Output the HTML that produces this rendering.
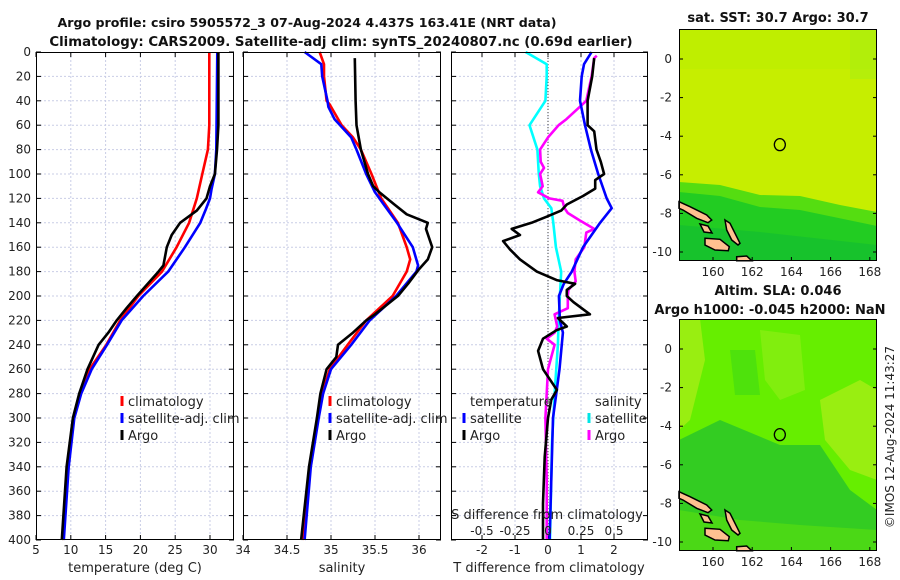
<!DOCTYPE html>
<html><head><meta charset="utf-8"><style>
html,body{margin:0;padding:0;background:#fff;width:900px;height:580px;overflow:hidden}
svg{display:block;font-family:"DejaVu Sans","Liberation Sans",sans-serif}
</style></head><body>
<svg id="fig" width="900" height="580" viewBox="0 0 900 580" xmlns="http://www.w3.org/2000/svg">
<text x="307" y="27" font-size="12.6" font-weight="bold" text-anchor="middle" fill="#111">Argo profile: csiro 5905572_3 07-Aug-2024 4.437S 163.41E (NRT data)</text>
<text x="341" y="46" font-size="13.3" font-weight="bold" text-anchor="middle" fill="#111">Climatology: CARS2009. Satellite-adj clim: synTS_20240807.nc (0.69d earlier)</text>
<text x="778" y="22" font-size="13" font-weight="bold" text-anchor="middle" fill="#111">sat. SST: 30.7 Argo: 30.7</text>
<text x="778" y="295" font-size="13" font-weight="bold" text-anchor="middle" fill="#111">Altim. SLA: 0.046</text>
<text x="770" y="314" font-size="13" font-weight="bold" text-anchor="middle" fill="#111">Argo h1000: -0.045 h2000: NaN</text>
<text transform="translate(894,437) rotate(-90)" font-size="12" text-anchor="middle" fill="#222">©IMOS 12-Aug-2024 11:43:27</text>
<g id="plots"></g>
</svg>
<script>
// ---- depths (m) ----
const depthTicks = [0,20,40,60,80,100,120,140,160,180,200,220,240,260,280,300,320,340,360,380,400];
// Panel 1: temperature
const tempTicks = [5,10,15,20,25,30];
const climTempDepth = [0,60,80,100,120,140,160,180,200,220,240,260,280,300,340,400];
const climTemp = [29.9,29.9,29.7,28.9,28.1,27.0,25.2,23.1,19.7,17.1,15.1,12.7,11.4,10.4,9.6,8.8];
const satTempDepth = [0,80,100,113,120,129,140,160,180,200,220,240,260,280,300,340,400];
const satTemp = [31.05,30.9,30.7,30.2,30.0,29.4,28.6,26.4,24.0,20.4,17.3,15.2,13.0,11.5,10.5,9.7,9.0];
const argoTempDepth = [0,60,80,100,110,120,130,140,150,160,175,180,200,210,220,230,240,260,280,300,340,400];
const argoTemp = [31.2,31.2,31.0,30.7,30.0,29.5,28.1,25.7,24.5,23.8,23.3,22.6,19.5,18.0,16.6,15.4,14.0,12.4,11.2,10.3,9.4,8.7];
// Panel 2: salinity
const salTicks = [34,34.5,35,35.5,36];
const climSalDepth = [0,10,20,40,43,60,70,80,100,120,140,160,170,180,200,220,240,260,280,300,340,400];
const climSal = [34.87,34.92,34.92,34.95,34.985,35.12,35.25,35.34,35.46,35.57,35.76,35.86,35.90,35.86,35.70,35.40,35.19,34.985,34.90,34.85,34.76,34.68];
const satSalDepth = [0,10,20,40,45,55,70,80,100,115,120,140,160,175,180,200,220,240,260,280,300,340,400];
const satSal = [34.70,34.89,34.90,34.96,34.97,35.04,35.23,35.29,35.40,35.50,35.55,35.75,35.93,35.99,35.97,35.74,35.44,35.23,35.00,34.91,34.86,34.77,34.70];
const argoSalDepth = [5,40,60,80,100,110,115,125,133,140,145,160,170,178,190,200,215,220,230,240,250,260,280,300,340,400];
const argoSal = [35.27,35.28,35.29,35.34,35.42,35.48,35.55,35.72,35.86,36.10,36.08,36.15,36.10,36.00,35.875,35.76,35.50,35.40,35.25,35.08,35.06,34.95,34.88,34.84,34.75,34.66];
// Panel 3: differences from climatology
const dTempTicks = [-2,-1,0,1,2];
const dSalTicks = [-0.5,-0.25,0,0.25,0.5];
const satDTDepth = [0,10,20,40,60,80,100,120,128,140,160,180,190,200,220,230,260,280,300,350,400];
const satDT = [1.32,1.09,1.02,0.97,1.12,1.30,1.52,1.78,1.93,1.58,1.06,0.72,0.48,0.33,0.36,0.45,0.35,0.25,0.15,0.10,0.05];
const argoDTDepth = [5,20,40,60,65,80,90,100,105,112,118,125,130,135,140,145,150,155,162,170,180,187,190,195,200,205,215,218,225,228,235,245,260,277,285,300,332,370,400];
const argoDT = [1.40,1.34,1.20,1.20,1.40,1.47,1.60,1.70,1.43,1.43,1.06,0.57,0.40,-0.04,-0.50,-1.10,-0.85,-1.36,-1.15,-0.85,-0.34,0.26,0.82,0.57,0.57,0.77,1.27,0.30,0.57,0.26,-0.15,-0.30,-0.15,0.27,0.10,0.00,-0.10,-0.15,-0.15];
const satDSDepth = [0,10,20,40,55,60,80,100,110,120,128,140,160,180,200,220,240,280,320,400];
const satDS = [-0.17,-0.01,-0.01,-0.02,-0.11,-0.14,-0.08,-0.07,-0.06,-0.03,0.025,0.04,0.06,0.10,0.09,0.08,0.075,0.05,0.03,0.015];
const argoDSDepth = [3,5,20,35,40,45,55,60,70,80,90,95,100,110,115,120,122,128,132,138,145,148,160,170,180,188,195,200,210,215,225,230,235,240,260,300,350,400];
const argoDS = [0.37,0.35,0.33,0.30,0.29,0.24,0.14,0.08,0.0,-0.06,-0.055,-0.03,-0.06,-0.04,-0.075,0.01,0.11,0.125,0.15,0.24,0.35,0.29,0.275,0.21,0.20,0.21,0.155,0.15,0.15,0.05,0.07,0.05,-0.01,0.05,0.0,-0.02,-0.01,-0.01];
// Maps
const lonTicks = [160,162,164,166,168];
const latTicks = [0,-2,-4,-6,-8,-10];
const argoLon = 163.41, argoLat = -4.437;

const NS = 'http://www.w3.org/2000/svg';
const root = document.getElementById('plots');
function el(tag, attrs, parent, text){
  const e = document.createElementNS(NS, tag);
  for (const k in attrs) e.setAttribute(k, attrs[k]);
  if (text !== undefined) e.textContent = text;
  (parent||root).appendChild(e);
  return e;
}
const yTop = 52, yBot = 540;
const yD = d => yTop + d*1.22;
const xT = t => 36 + (t-5)*6.96;
const xS = s => 243 + (s-34)*88;
const xDT = v => 548 + v*33;
const xDS = v => 548 + v*132;

function frame(x0,x1,name,xticks,xfun,showY){
  const g = el('g',{});
  
  
  el('rect',{x:x0,y:yTop,width:x1-x0,height:yBot-yTop,fill:'#fff'},g);
  depthTicks.forEach(d=>{
    const y=yD(d);
    if(d>0&&d<400) el('line',{x1:x0,x2:x1,y1:y,y2:y,stroke:'#c9cde6','stroke-width':1,'stroke-dasharray':'2,2'},g);
    el('line',{x1:x0,x2:x0+5,y1:y,y2:y,stroke:'#000'},g);
    el('line',{x1:x1-5,x2:x1,y1:y,y2:y,stroke:'#000'},g);
    if(showY){
      const t=el('text',{x:x0-5,y:y+4,'font-size':12,'text-anchor':'end',fill:'#222'},g,String(d));
      
      
    }
  });
  xticks.forEach(v=>{
    const x=xfun(v);
    if(x>x0+1&&x<x1-1) el('line',{x1:x,x2:x,y1:yTop,y2:yBot,stroke:'#c9cde6','stroke-width':1,'stroke-dasharray':'2,2'},g);
    el('line',{x1:x,x2:x,y1:yBot,y2:yBot-5,stroke:'#000'},g);
    el('line',{x1:x,x2:x,y1:yTop,y2:yTop+5,stroke:'#000'},g);
  });
  return g;
}
function series(xs,ds,fx,color,name,parent,w){
  const p = el('path',{d:xs.map((v,i)=>(i?'L':'M')+fx(v).toFixed(1)+','+yD(ds[i]).toFixed(1)).join(''),fill:'none',stroke:color,'stroke-width':w||2.6,'stroke-linejoin':'round'},parent);
  
  
  return p;
}
function border(x0,x1,parent){
  el('rect',{x:x0+0.5,y:yTop+0.5,width:x1-x0-1,height:yBot-yTop-1,fill:'none',stroke:'#000','stroke-width':1},parent);
}
function legItem(x,y,color,label,parent,name){
  const g=el('g',{},parent);
  
  
  el('line',{x1:x,x2:x,y1:y-10,y2:y,stroke:color,'stroke-width':3},g);
  el('text',{x:x+6,y:y,'font-size':13,fill:'#222'},g,label);
}

// Panel 1
const g1 = frame(36,234,'temperature-panel',tempTicks,xT,true);
series(climTemp,climTempDepth,xT,'#ff0000','climatology-temp-line',g1);
series(satTemp,satTempDepth,xT,'#0000ff','satellite-temp-line',g1);
series(argoTemp,argoTempDepth,xT,'#000000','argo-temp-line',g1);
border(36,234,g1);
tempTicks.forEach(v=>{const t=el('text',{x:xT(v),y:554,'font-size':12,'text-anchor':'middle',fill:'#222'},g1,String(v));
  
  });
el('text',{x:135,y:572,'font-size':13,'text-anchor':'middle',fill:'#222'},g1,'temperature (deg C)');
legItem(122,406,'#ff0000','climatology',g1,'legend-climatology');
legItem(122,423,'#0000ff','satellite-adj. clim',g1,'legend-satellite');
legItem(122,440,'#000','Argo',g1,'legend-argo');

// Panel 2
const g2 = frame(243,441,'salinity-panel',salTicks,xS,false);
series(climSal,climSalDepth,xS,'#ff0000','climatology-sal-line',g2);
series(satSal,satSalDepth,xS,'#0000ff','satellite-sal-line',g2);
series(argoSal,argoSalDepth,xS,'#000000','argo-sal-line',g2);
border(243,441,g2);
salTicks.forEach(v=>{const t=el('text',{x:xS(v),y:554,'font-size':12,'text-anchor':'middle',fill:'#222'},g2,String(v));
  
  });
el('text',{x:342,y:572,'font-size':13,'text-anchor':'middle',fill:'#222'},g2,'salinity');
legItem(330,406,'#ff0000','climatology',g2,'legend-climatology-2');
legItem(330,423,'#0000ff','satellite-adj. clim',g2,'legend-satellite-2');
legItem(330,440,'#000','Argo',g2,'legend-argo-2');

// Panel 3
const g3 = frame(451,648,'difference-panel',dTempTicks,xDT,false);
el('line',{x1:548,x2:548,y1:yTop,y2:yBot,stroke:'#444','stroke-width':1,'stroke-dasharray':'1,2'},g3);
series(satDS,satDSDepth,xDS,'#00ffff','satellite-sal-diff-line',g3);
series(argoDS,argoDSDepth,xDS,'#ff00ff','argo-sal-diff-line',g3);
series(satDT,satDTDepth,xDT,'#0000ff','satellite-temp-diff-line',g3);
series(argoDT,argoDTDepth,xDT,'#000000','argo-temp-diff-line',g3);
border(451,648,g3);
el('text',{x:470,y:406,'font-size':13,fill:'#222'},g3,'temperature');
legItem(464,423,'#0000ff','satellite',g3,'legend-temp-satellite');
legItem(464,440,'#000','Argo',g3,'legend-temp-argo');
el('text',{x:595,y:406,'font-size':13,fill:'#222'},g3,'salinity');
legItem(589,423,'#00e5e5','satellite',g3,'legend-sal-satellite');
legItem(589,440,'#ff00ff','Argo',g3,'legend-sal-argo');
el('text',{x:547,y:519,'font-size':13,'text-anchor':'middle',fill:'#222'},g3,'S difference from climatology');
dSalTicks.forEach(v=>{const t=el('text',{x:xDS(v),y:535,'font-size':12,'text-anchor':'middle',fill:'#222'},g3,String(v));
  
  });
dTempTicks.forEach(v=>{const t=el('text',{x:xDT(v),y:554,'font-size':12,'text-anchor':'middle',fill:'#222'},g3,String(v));
  
  });
el('text',{x:549,y:572,'font-size':13,'text-anchor':'middle',fill:'#222'},g3,'T difference from climatology');

// Maps
const mx0=679, mx1=877;
const lonX = lon => 713 + (lon-160)*19.6;
const latY = (lat,off) => off + 59 - lat*19.3;
function islands(g,off){
  const polys=[
    [[679,201.7],[690,206.7],[706.7,215],[711.7,220],[708,222.7],[696.7,218.3],[683,210],[679,208.3]],
    [[725,220],[730,223.3],[736.7,236.7],[740,243.3],[738,245],[731.7,240],[726.7,230]],
    [[705,238.3],[720,239.3],[729.3,246.7],[728.3,250.7],[715,250],[705,245]],
    [[736.7,256.7],[746.7,256],[751.7,260.7],[736.7,260.7]],
    [[700,224],[708,226],[712,233],[704,232]]
  ];
  polys.forEach(p=>el('polygon',{points:p.map(q=>q[0]+','+(q[1]+off)).join(' '),fill:'#ffc090',stroke:'#000','stroke-width':1.5},g));
}
function mapAxes(g,top,bot,off){
  el('rect',{x:mx0+0.5,y:top+0.5,width:mx1-mx0-1,height:bot-top-1,fill:'none',stroke:'#000'},g);
  lonTicks.forEach(v=>{const x=lonX(v);
    el('line',{x1:x,x2:x,y1:bot,y2:bot-4,stroke:'#000'},g);
    const t=el('text',{x:x,y:bot+15,'font-size':12,'text-anchor':'middle',fill:'#222'},g,String(v));
    
    });
  latTicks.forEach(v=>{const y=latY(v,off);
    el('line',{x1:mx1,x2:mx1-4,y1:y,y2:y,stroke:'#000'},g);
    el('line',{x1:mx0,x2:mx0+4,y1:y,y2:y,stroke:'#000'},g);
    const t=el('text',{x:672,y:y+4,'font-size':12,'text-anchor':'end',fill:'#222'},g,String(v));
    
    });
  el('ellipse',{cx:lonX(argoLon),cy:latY(argoLat,off),rx:5.5,ry:6,fill:'none',stroke:'#000','stroke-width':1.3},g);
}
// SST map
const gm1=el('g',{});


el('rect',{x:mx0,y:29,width:mx1-mx0,height:232,fill:'#c6ee00'},gm1);
el('rect',{x:mx0,y:29,width:mx1-mx0,height:40,fill:'#bbee00',opacity:0.6},gm1);
el('rect',{x:850,y:29,width:27,height:50,fill:'#aaee11',opacity:0.6},gm1);
el('path',{d:'M679,182 L720,185 L760,195 L800,196 L840,205 L877,212 L877,261 L679,261Z',fill:'#55dd11'},gm1);
el('path',{d:'M679,192 L720,196 L760,207 L800,210 L877,226 L877,261 L679,261Z',fill:'#22cc22'},gm1);
el('path',{d:'M679,225 L760,232 L877,245 L877,261 L679,261Z',fill:'#11bb33',opacity:0.6},gm1);
islands(gm1,0);
mapAxes(gm1,29,261,0);
// SLA map
const gm2=el('g',{});


el('rect',{x:mx0,y:319,width:mx1-mx0,height:232,fill:'#66ee00'},gm2);
el('path',{d:'M679,319 L700,319 L705,360 L690,420 L679,430Z',fill:'#99ee11'},gm2);
el('path',{d:'M820,400 L860,380 L877,390 L877,480 L850,470 L825,440Z',fill:'#99ee11'},gm2);
el('path',{d:'M760,330 L800,335 L805,390 L780,400 L765,380Z',fill:'#88ee11',opacity:0.8},gm2);
el('path',{d:'M679,440 L720,420 L780,445 L820,445 L850,490 L877,510 L877,551 L679,551Z',fill:'#33cc22'},gm2);
el('path',{d:'M730,350 L755,350 L760,395 L735,395Z',fill:'#44dd11',opacity:0.7},gm2);
el('path',{d:'M679,510 L740,520 L800,525 L877,530 L877,551 L679,551Z',fill:'#55dd11',opacity:0.7},gm2);
islands(gm2,290);
mapAxes(gm2,319,551,290);
</script>
</body></html>
